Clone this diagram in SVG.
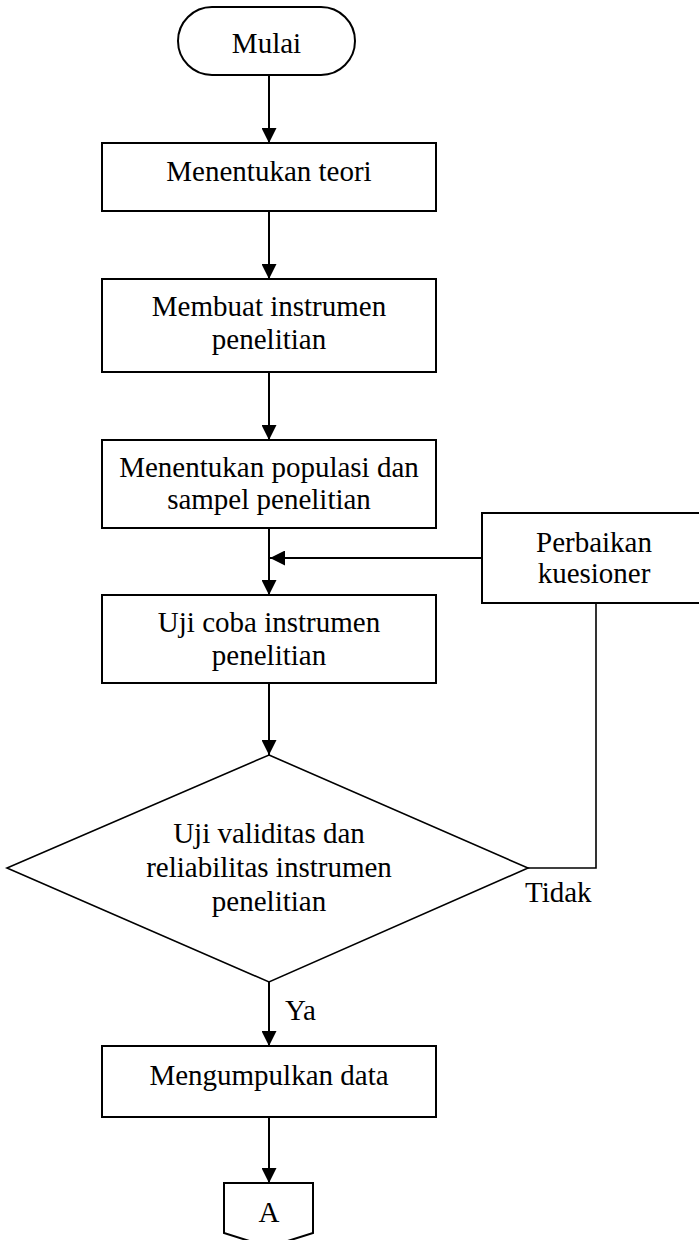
<svg xmlns="http://www.w3.org/2000/svg" width="699" height="1240" viewBox="0 0 699 1240">
<style>
.n{fill:#fff;stroke:#000;stroke-width:2}
.d{fill:#fff;stroke:#000;stroke-width:1.6}
.t{font-family:"Liberation Serif","Times New Roman",serif;font-size:29px;fill:#000;text-anchor:middle}
.l{font-family:"Liberation Serif","Times New Roman",serif;font-size:29px;fill:#000}
.c{fill:none;stroke:#000;stroke-width:2}
.c2{fill:none;stroke:#000;stroke-width:1.6}
</style>
<defs>
<marker id="ah" viewBox="0 0 15 15" refX="15" refY="7.5" markerWidth="15" markerHeight="15" markerUnits="userSpaceOnUse" orient="auto">
<path d="M0,0 L15,7.5 L0,15 Z" fill="#000"/>
</marker>
</defs>
<g id="connectors">
<line class="c" x1="269" y1="75" x2="269" y2="143" marker-end="url(#ah)"/>
<line class="c" x1="269" y1="211" x2="269" y2="279" marker-end="url(#ah)"/>
<line class="c" x1="269" y1="372" x2="269" y2="440" marker-end="url(#ah)"/>
<line class="c" x1="269" y1="528" x2="269" y2="595" marker-end="url(#ah)"/>
<line class="c" x1="482" y1="558" x2="270" y2="558" marker-end="url(#ah)"/>
<line class="c" x1="269" y1="683" x2="269" y2="755" marker-end="url(#ah)"/>
<polyline class="c2" points="528,868 596,868 596,603"/>
<line class="c" x1="269" y1="982" x2="269" y2="1046" marker-end="url(#ah)"/>
<line class="c" x1="269" y1="1117" x2="269" y2="1183" marker-end="url(#ah)"/>
<text class="l" x="525" y="902">Tidak</text>
<text class="l" x="285" y="1020">Ya</text>
</g>
<g id="start">
<rect class="n" x="178" y="7" width="177" height="68" rx="34" ry="34"/>
<text class="t" x="266.5" y="53">Mulai</text>
</g>
<g id="teori">
<rect class="n" x="102" y="143" width="334" height="68"/>
<text class="t" x="269" y="181">Menentukan teori</text>
</g>
<g id="instrumen">
<rect class="n" x="102" y="279" width="334" height="93"/>
<text class="t" x="269" y="316">Membuat instrumen</text>
<text class="t" x="269" y="349">penelitian</text>
</g>
<g id="populasi">
<rect class="n" x="102" y="440" width="334" height="88"/>
<text class="t" x="269" y="477">Menentukan populasi dan</text>
<text class="t" x="269" y="509">sampel penelitian</text>
</g>
<g id="perbaikan">
<rect class="n" x="482" y="513" width="224" height="90"/>
<text class="t" x="594" y="552">Perbaikan</text>
<text class="t" x="594" y="583">kuesioner</text>
</g>
<g id="ujicoba">
<rect class="n" x="102" y="595" width="334" height="88"/>
<text class="t" x="269" y="632">Uji coba instrumen</text>
<text class="t" x="269" y="665">penelitian</text>
</g>
<g id="validitas">
<polygon class="d" points="269,755 528,868 269,982 7,868"/>
<text class="t" x="269" y="843">Uji validitas dan</text>
<text class="t" x="269" y="877">reliabilitas instrumen</text>
<text class="t" x="269" y="911">penelitian</text>
</g>
<g id="kumpul">
<rect class="n" x="102" y="1046" width="334" height="71"/>
<text class="t" x="269" y="1085">Mengumpulkan data</text>
</g>
<g id="A">
<polygon class="n" points="224,1183 313,1183 313,1233 268.5,1247 224,1233"/>
<text class="t" x="269" y="1222">A</text>
</g>
</svg>
